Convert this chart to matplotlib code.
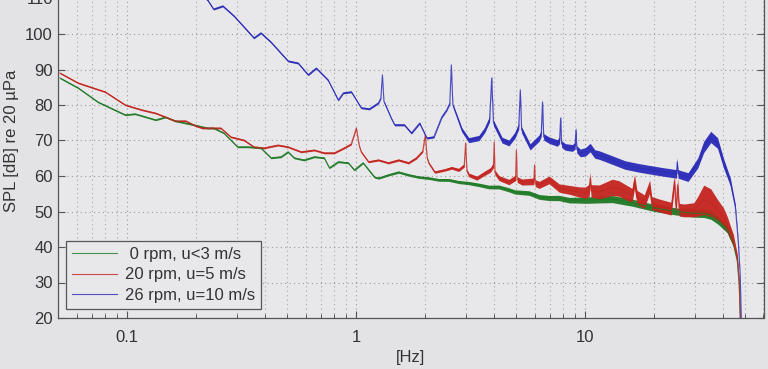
"""SPL spectra of three rotor/wind conditions, log frequency axis (MATLAB-like look)."""

import matplotlib
matplotlib.use("Agg")
import matplotlib.pyplot as plt
import numpy as np
from matplotlib.ticker import LogLocator, NullFormatter, FixedLocator, FixedFormatter

plt.rcParams["font.family"] = ["Liberation Sans", "DejaVu Sans"]
plt.rcParams["font.size"] = 12

# ---- data ----------------------------------------------------------------
# 0 rpm, u<3 m/s (green)
GREEN_F = [0.0508, 0.061, 0.0746, 0.098, 0.108, 0.133, 0.147, 0.162, 0.195, 0.224,
           0.238, 0.264, 0.303, 0.336, 0.383, 0.424, 0.469, 0.503, 0.535, 0.591,
           0.655, 0.724, 0.762, 0.834, 0.922, 0.98, 1.07, 1.20, 1.25, 1.38,
           1.53, 1.69, 1.87, 2.07, 2.29, 2.53, 2.80, 3.10, 3.43, 3.79,
           4.20, 4.64, 4.93, 5.68, 6.29, 6.95, 7.69, 8.51, 9.41, 10.0,
           13.1, 16.0, 20.0, 25.0, 30.0, 33.0, 35.3, 38.0, 41.7, 44.3,
           46.1, 47.0, 47.5, 48.0]
GREEN_DB = [87.6, 84.8, 80.8, 77.2, 77.5, 75.8, 76.6, 75.5, 74.4, 73.5,
            73.5, 72.1, 68.2, 68.2, 67.9, 65.1, 65.4, 66.8, 65.1, 64.5,
            65.4, 65.1, 62.3, 64.0, 63.7, 61.7, 63.7, 59.7, 59.4, 60.3,
            61.1, 60.3, 59.7, 59.4, 58.9, 58.9, 58.3, 58.0, 57.5, 56.9,
            56.9, 56.1, 55.5, 55.2, 54.1, 53.8, 53.8, 53.2, 53.2, 53.2,
            53.5, 52.5, 51.0, 50.0, 49.5, 49.5, 49.0, 47.5, 45.0, 41.0,
            36.0, 29.5, 20.0, 10.0]

# 20 rpm, u=5 m/s (red)
RED_F = [0.0508, 0.061, 0.080, 0.098, 0.116, 0.133, 0.147, 0.162, 0.180, 0.199,
         0.213, 0.256, 0.283, 0.323, 0.357, 0.395, 0.455, 0.503, 0.574, 0.655,
         0.724, 0.801, 0.885, 0.95, 1.00, 1.03, 1.05, 1.13, 1.25, 1.38,
         1.53, 1.69, 1.83, 1.95, 2.00, 2.04, 2.07, 2.20, 2.43, 2.61,
         2.80, 2.96, 3.00, 3.04, 3.10, 3.36, 3.64, 3.85, 3.97, 4.00,
         4.03, 4.20, 4.64, 4.96, 5.00, 5.04, 5.29, 5.96, 6.00, 6.04,
         6.29, 6.95, 7.69, 8.51, 9.41, 10.0, 10.4, 10.5, 10.6, 11.5,
         13.1, 14.0, 16.0, 16.4, 16.8, 18.1, 19.1, 19.5, 20.8, 23.7,
         24.5, 24.9, 25.3, 25.7, 27.0, 29.8, 31.0, 32.9, 35.3, 37.8,
         40.1, 41.7, 43.0, 44.3, 46.1, 47.0, 47.5, 48.0]
RED_DB = [89.0, 86.2, 83.7, 80.0, 78.6, 77.7, 76.6, 75.5, 75.5, 74.1,
          73.5, 73.5, 71.0, 70.1, 68.2, 67.9, 68.7, 68.2, 66.8, 67.3,
          66.5, 66.5, 67.9, 69.0, 73.5, 68.5, 66.8, 64.0, 64.5, 63.7,
          64.5, 63.7, 65.1, 67.0, 71.5, 65.0, 63.7, 61.1, 61.7, 62.3,
          61.7, 63.0, 69.3, 61.5, 60.3, 59.4, 60.8, 61.7, 63.0, 69.6,
          61.0, 59.4, 58.3, 59.5, 67.3, 59.0, 58.3, 58.5, 63.1, 58.0,
          57.5, 58.9, 56.6, 56.1, 55.5, 55.3, 56.0, 59.4, 55.8, 55.5,
          56.8, 56.5, 54.5, 58.5, 54.0, 52.8, 57.0, 52.4, 51.8, 50.8,
          58.5, 50.6, 57.5, 50.5, 50.3, 50.5, 51.5, 53.3, 52.5, 50.4,
          48.5, 46.3, 44.0, 42.0, 37.0, 30.0, 20.0, 10.0]

# 26 rpm, u=10 m/s (blue)
BLUE_F = [0.20, 0.224, 0.238, 0.261, 0.292, 0.323, 0.357, 0.383, 0.424, 0.503,
          0.557, 0.616, 0.668, 0.753, 0.834, 0.877, 0.951, 1.05, 1.14, 1.25,
          1.28, 1.30, 1.32, 1.42, 1.47, 1.62, 1.74, 1.89, 2.03, 2.18,
          2.36, 2.48, 2.56, 2.60, 2.64, 2.89, 3.10, 3.43, 3.64, 3.82,
          3.90, 3.97, 4.33, 4.64, 4.93, 5.12, 5.20, 5.27, 5.74, 6.29,
          6.42, 6.50, 6.58, 6.95, 7.54, 7.72, 7.80, 7.88, 8.17, 8.77,
          9.02, 9.10, 9.18, 9.51, 10.0, 10.5, 11.0, 11.5, 13.1, 14.9,
          17.1, 19.4, 22.1, 25.0, 25.2, 25.4, 26.2, 28.1, 31.0, 32.9,
          35.3, 37.8, 40.1, 43.0, 45.2, 46.6, 47.5, 48.0, 48.5]
BLUE_DB = [112.0, 109.6, 107.0, 107.9, 105.1, 102.0, 98.9, 100.3, 97.7, 92.4,
           91.8, 88.5, 90.4, 87.0, 81.4, 83.4, 83.7, 79.2, 78.9, 80.6,
           82.0, 88.5, 81.0, 76.3, 74.4, 74.4, 72.1, 74.9, 70.7, 71.0,
           76.6, 78.6, 80.5, 91.3, 80.0, 73.0, 70.1, 70.7, 73.0, 76.0,
           87.6, 75.0, 70.1, 69.3, 71.5, 74.0, 84.2, 73.0, 68.2, 70.7,
           72.0, 80.8, 71.0, 70.1, 69.3, 70.0, 76.3, 69.0, 68.2, 67.9,
           68.5, 73.0, 67.5, 66.5, 66.8, 68.0, 66.2, 65.9, 64.5, 63.1,
           62.3, 61.7, 61.1, 60.6, 64.0, 60.6, 60.3, 59.7, 63.7, 68.2,
           71.0, 69.3, 63.7, 58.3, 51.3, 41.1, 31.5, 20.0, 10.0]

# half-width of the noisy band around each curve (dB)
SPREAD_F = [0.05, 1.0, 2.5, 3.0, 5.0, 9.0, 10.0, 13.0, 16.0, 20.0, 27.0, 30.0, 33.0, 35.0, 38.0, 41.0, 44.0, 46.0, 48.5]
GREEN_SPREAD = [0.2, 0.25, 0.4, 0.45, 0.6, 0.8, 0.9, 1.0, 1.0, 1.0, 1.0, 1.1, 1.2, 1.2, 1.1, 1.1, 0.9, 0.6, 0.3]
RED_SPREAD = [0.2, 0.25, 0.35, 0.5, 0.8, 1.3, 1.6, 2.3, 2.0, 1.8, 1.8, 2.0, 4.2, 4.0, 2.9, 2.4, 1.7, 1.0, 0.4]
BLUE_SPREAD = [0.25, 0.25, 0.3, 0.7, 0.85, 0.95, 1.2, 1.2, 1.2, 1.2, 1.2, 1.3, 1.6, 1.6, 1.5, 1.3, 1.0, 0.6, 0.3]

LABELS = [" 0 rpm, u<3 m/s", "20 rpm, u=5 m/s", "26 rpm, u=10 m/s"]
COLORS = ["#1f7a25", "#c4241e", "#2a2ab8"]

BG = "#e3e3e5"
AX_BG = "#e8e8ea"
INK = "#333333"


def draw_series(ax, f, db, spread, color, label):
    f = np.asarray(f)
    db = np.asarray(db)
    hw = np.interp(np.log10(f), np.log10(SPREAD_F), spread)
    ax.fill_between(f, db - hw, db + hw, color=color, linewidth=0, alpha=0.95, zorder=2)
    ax.plot(f, db, color=color, linewidth=0.8, alpha=0.8, label=label, zorder=3)


def main():
    fig = plt.figure(figsize=(7.68, 3.69), dpi=100, facecolor=BG)
    ax = fig.add_axes([58.4 / 768, 51 / 369, (763.5 - 58.4) / 768, (318 + 37) / 369])
    ax.set_facecolor(AX_BG)

    draw_series(ax, GREEN_F, GREEN_DB, GREEN_SPREAD, COLORS[0], LABELS[0])
    draw_series(ax, RED_F, RED_DB, RED_SPREAD, COLORS[1], LABELS[1])
    draw_series(ax, BLUE_F, BLUE_DB, BLUE_SPREAD, COLORS[2], LABELS[2])

    ax.set_xscale("log")
    ax.set_xlim(0.05, 60)
    ax.set_ylim(20, 120)

    ax.xaxis.set_major_locator(FixedLocator([0.1, 1, 10]))
    ax.xaxis.set_major_formatter(FixedFormatter(["0.1", "1", "10"]))
    ax.xaxis.set_minor_locator(LogLocator(base=10, subs=np.arange(2, 10)))
    ax.xaxis.set_minor_formatter(NullFormatter())
    ax.set_yticks(np.arange(20, 121, 10))

    ax.grid(True, which="major", color="#9a9a9a", linestyle=(0, (1, 3)), linewidth=0.8, zorder=0)
    ax.grid(True, which="minor", axis="x", color="#a8a8a8", linestyle=(0, (1, 3)), linewidth=0.8, zorder=0)
    ax.set_axisbelow(True)

    ax.tick_params(which="both", direction="in", top=True, right=True, colors="#555555",
                   labelcolor=INK, labelsize=12)
    ax.tick_params(which="major", length=5, width=0.8)
    ax.tick_params(which="minor", length=3, width=0.7)
    ax.tick_params(axis="x", pad=9)
    ax.tick_params(axis="y", pad=4)
    for sp in ax.spines.values():
        sp.set_color("#555555")
        sp.set_linewidth(0.9)

    ax.set_xlabel("[Hz]", color=INK, fontsize=12, labelpad=3)
    ax.set_ylabel("SPL [dB] re 20 µPa", color=INK, fontsize=12, labelpad=4)

    leg = ax.legend(loc="lower left", bbox_to_anchor=(0.011, 0.025), borderaxespad=0,
                    fancybox=False, frameon=True, fontsize=12, handlelength=2.7,
                    handletextpad=0.5, labelspacing=0.35, borderpad=0.35)
    leg.get_frame().set_facecolor(AX_BG)
    leg.get_frame().set_edgecolor("#555555")
    leg.get_frame().set_linewidth(0.9)
    leg.get_frame().set_alpha(1)
    for t in leg.get_texts():
        t.set_color(INK)

    fig.savefig("out.png", dpi=100, facecolor=BG)


if __name__ == "__main__":
    main()
